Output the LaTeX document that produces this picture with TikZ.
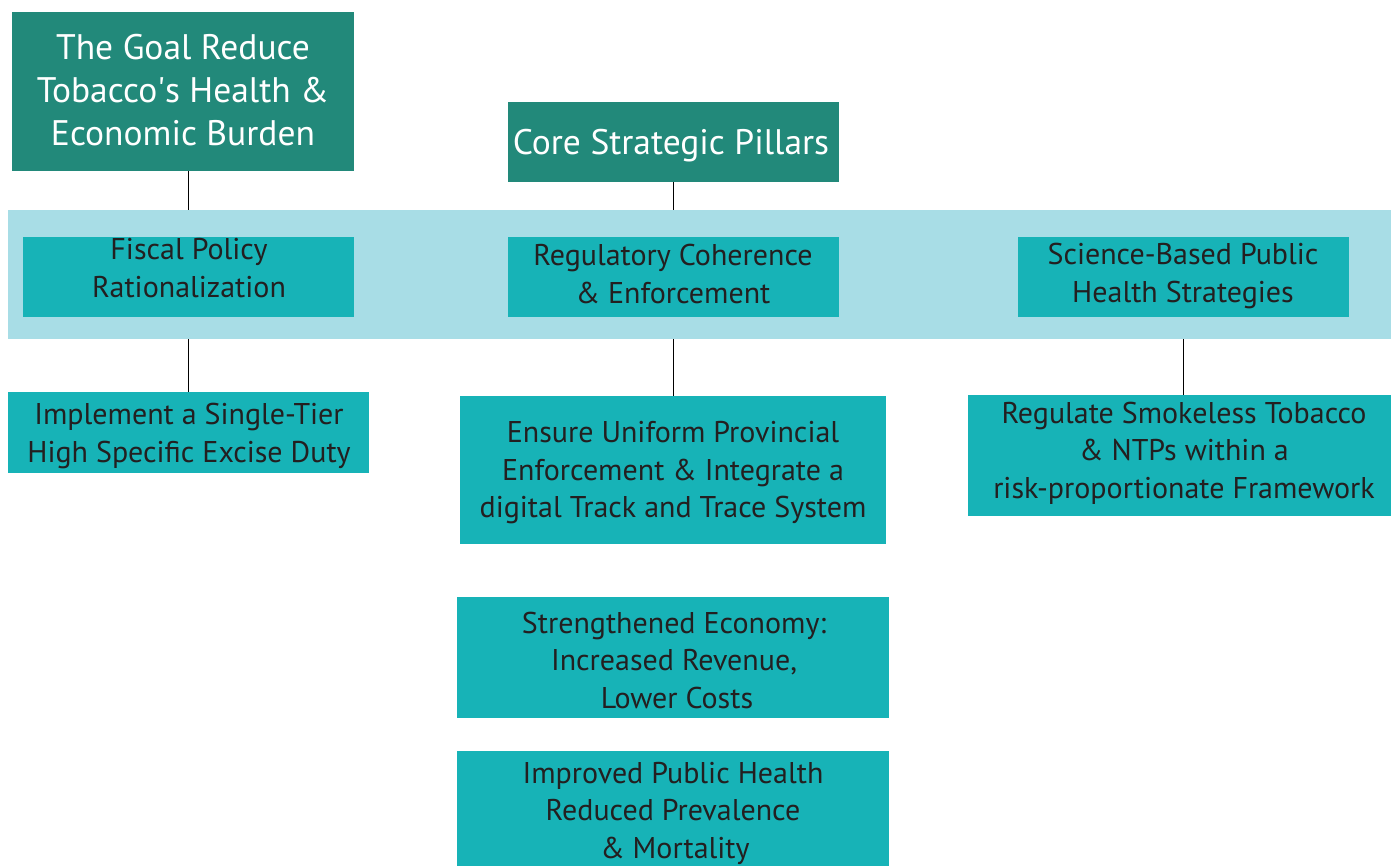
\documentclass[tikz,border=0pt]{standalone}
\usepackage{fontspec}
\setmainfont{PT Sans}
\definecolor{goalc}{HTML}{22897A}
\definecolor{tealc}{HTML}{17B3B7}
\definecolor{bandc}{HTML}{A8DDE6}
\definecolor{ink}{HTML}{231F20}
\tikzset{
  box/.style={draw=none, inner sep=0pt, outer sep=0pt, anchor=north west, rectangle},
  goalbox/.style={box, fill=goalc},
  pillar/.style={box, fill=tealc},
  bandbox/.style={box, fill=bandc},
  txt/.style={align=center, text=ink, inner sep=0pt, font=\fontsize{30}{37.5}\selectfont},
  wtxt/.style={align=center, text=white, inner sep=0pt, font=\fontsize{35.5}{43}\selectfont},
  conn/.style={draw=black, line width=1pt}
}
\begin{document}
\begin{tikzpicture}[x=1pt, y=-1pt]
\useasboundingbox (0,0) rectangle (1391,866);
% band
\node[bandbox, minimum width=1383pt, minimum height=129pt] (band) at (8,210) {};
% top boxes
\node[goalbox, minimum width=342pt, minimum height=159pt] (goal) at (12,12) {};
\node[goalbox, minimum width=331pt, minimum height=80pt] (core) at (508,102) {};
% pillars
\node[pillar, minimum width=331pt, minimum height=80pt] (fiscal) at (23,237) {};
\node[pillar, minimum width=331pt, minimum height=80pt] (regul) at (508,237) {};
\node[pillar, minimum width=331pt, minimum height=80pt] (science) at (1018,237) {};
% actions
\node[pillar, minimum width=361pt, minimum height=81pt] (impl) at (8,392) {};
\node[pillar, minimum width=426pt, minimum height=148pt] (ensure) at (460,396) {};
\node[pillar, minimum width=423pt, minimum height=121pt] (regulate) at (968,395) {};
% outcomes
\node[pillar, minimum width=432pt, minimum height=121pt] (econ) at (457,597) {};
\node[pillar, minimum width=432pt, minimum height=120pt] (health) at (457,751) {};
% texts
\node[wtxt] (tgoal) at (183,90) {The Goal Reduce\\Tobacco\textquotesingle s Health \&\\Economic Burden};
\node[wtxt] (tcore) at (671,146) {Core Strategic Pillars};
\node[txt] (tfiscal) at (189,268) {Fiscal Policy\\Rationalization};
\node[txt] (tregul) at (673,274) {Regulatory Coherence\\\& Enforcement};
\node[txt] (tscience) at (1183,276) {Science-Based Public\\Health Strategies};
\node[txt] (timpl) at (189,436) {Implement a Single-Tier\\High Specific Excise Duty};
\node[txt] (tensure) at (673,473) {Ensure Uniform Provincial\\Enforcement \& Integrate a\\digital Track and Trace System};
\node[txt] (tregulate) at (1184,453) {Regulate Smokeless Tobacco\\\& NTPs within a\\risk-proportionate Framework};
\node[txt] (tecon) at (674,660) {Strengthened Economy:\\Increased Revenue,\\\hspace*{6pt}Lower Costs};
\node[txt] (thealth) at (673,813) {Improved Public Health\\Reduced Prevalence\\\hspace*{4pt}\& Mortality};
% connectors
\draw[conn] (fiscal.north |- goal.south) -- (fiscal.north |- band.north);
\draw[conn] (core.south) -- (core.south |- band.north);
\draw[conn] (fiscal.north |- band.south) -- (impl.north -| fiscal.north);
\draw[conn] (regul.north |- band.south) -- (ensure.north -| regul.north);
\draw[conn] (science.north |- band.south) -- (regulate.north -| science.north);
\end{tikzpicture}
\end{document}
